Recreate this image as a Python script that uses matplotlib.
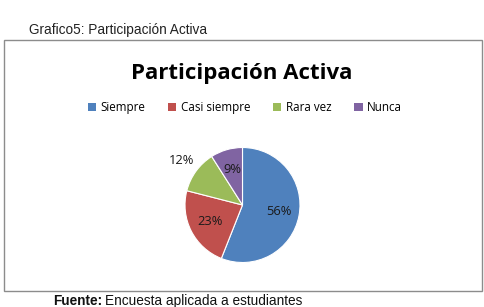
import matplotlib
matplotlib.use('Agg')
import matplotlib.pyplot as plt
import matplotlib.patches as mpatches
import numpy as np

# data
labels = ['Siempre', 'Casi siempre', 'Rara vez', 'Nunca']
values = [56, 23, 12, 9]
colors = ['#4F81BD', '#C0504D', '#9BBB59', '#8064A2']
outside = [False, False, True, False]

W, H = 485, 307
fig = plt.figure(figsize=(W/100, H/100), dpi=100)

def fx(px):
    return px / W

def fy(py):
    return 1 - py / H

# chart frame
frame = mpatches.Rectangle((fx(4), fy(291)), fx(478), 251/H, transform=fig.transFigure,
                           fill=False, edgecolor='#8c8c8c', linewidth=1.0)
fig.patches.append(frame)

# header / footer
fig.text(fx(29), fy(34), 'Grafico5: Participación Activa', family='Liberation Sans',
         fontsize=9.8, va='baseline', color='#222222')
t1 = fig.text(fx(53), fy(305), 'Fuente:', family='Liberation Sans', fontsize=9.8,
              weight='bold', va='baseline', color='#111111')
fig.canvas.draw()
bb = t1.get_window_extent()
fig.text(bb.x1 / W + fx(3), fy(305), 'Encuesta aplicada a estudiantes',
         family='Liberation Sans', fontsize=9.8, va='baseline', color='#111111')

# title
fig.text(fx(242), fy(73), 'Participación Activa', family='Open Sans', fontsize=16,
         weight='bold', ha='center', va='center', color='#000000')

# legend
handles = [mpatches.Patch(facecolor=c, edgecolor='none') for c in colors]
fig.legend(handles, labels, loc='center', bbox_to_anchor=(fx(245), fy(108)), ncol=4,
           frameon=False, prop={'family': 'Open Sans', 'size': 8.4},
           handlelength=0.7, handleheight=0.7, handletextpad=0.4, columnspacing=1.95)

# pie
r = 57.5
cx, cy = 242.5, 205
ax = fig.add_axes([fx(cx - r), fy(cy + r), 2*r/W, 2*r/H])
wedges, texts, autotexts = ax.pie(values, colors=colors, startangle=90, counterclock=False,
                                  autopct='%d%%', pctdistance=0.64,
                                  wedgeprops={'edgecolor': 'white', 'linewidth': 0.8},
                                  textprops={'family': 'Open Sans', 'size': 9.3, 'color': '#1a1a1a'})
for w, t, o in zip(wedges, autotexts, outside):
    if o:
        ang = np.deg2rad((w.theta1 + w.theta2) / 2)
        t.set_position((1.32*np.cos(ang), 1.32*np.sin(ang)))
ax.set_xlim(-1, 1)
ax.set_ylim(-1, 1)
ax.set_aspect('auto')
ax.axis('off')

fig.savefig('out.png', dpi=100)
